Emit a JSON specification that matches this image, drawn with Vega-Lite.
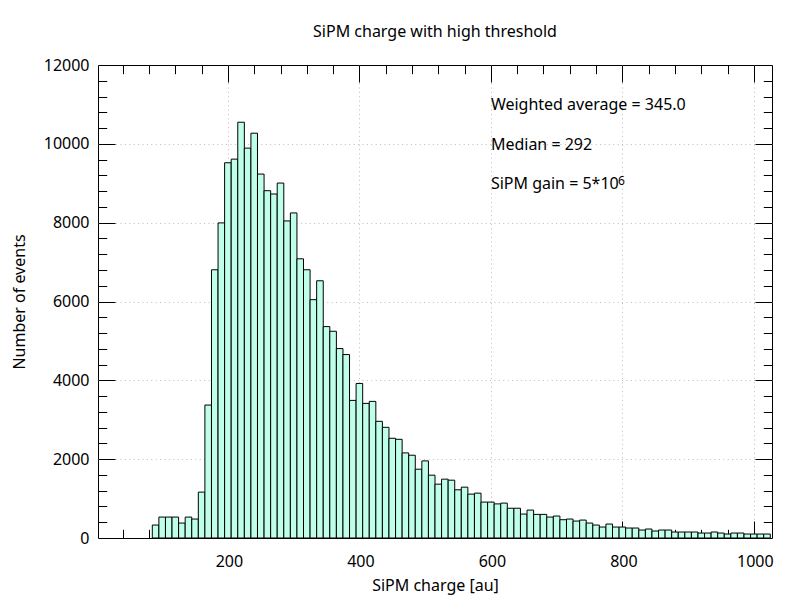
{
  "$schema": "https://vega.github.io/schema/vega-lite/v6.json",
  "description": "SiPM charge histogram with high threshold",
  "autosize": {"type": "none"},
  "padding": {"left": 98, "top": 65, "right": 28, "bottom": 62},
  "width": 674,
  "height": 473,
  "background": "white",
  "title": {
    "text": "SiPM charge with high threshold",
    "font": "Noto Sans",
    "fontSize": 16,
    "fontWeight": "normal",
    "color": "black",
    "anchor": "middle",
    "frame": "group",
    "offset": 17
  },
  "config": {
    "font": "Noto Sans",
    "view": {"stroke": "black", "strokeWidth": 1},
    "axis": {
      "labelFont": "Noto Sans",
      "labelFontSize": 16,
      "labelColor": "black",
      "titleFont": "Noto Sans",
      "titleFontSize": 16,
      "titleFontWeight": "normal",
      "titleColor": "black",
      "domain": false,
      "gridColor": "#bdbdbd",
      "gridDash": [1, 3.4],
      "gridWidth": 1,
      "tickColor": "black",
      "tickWidth": 1
    }
  },
  "datasets": {
    "hist": [
      {"charge": 80, "events": 126}, {"charge": 90, "events": 329}, {"charge": 100, "events": 531},
      {"charge": 110, "events": 531}, {"charge": 120, "events": 531}, {"charge": 130, "events": 379},
      {"charge": 140, "events": 531}, {"charge": 150, "events": 481}, {"charge": 160, "events": 1164},
      {"charge": 170, "events": 3373}, {"charge": 180, "events": 6805}, {"charge": 190, "events": 7994},
      {"charge": 200, "events": 9520}, {"charge": 210, "events": 9612}, {"charge": 220, "events": 10548},
      {"charge": 230, "events": 9891}, {"charge": 240, "events": 10270}, {"charge": 250, "events": 9233},
      {"charge": 260, "events": 8811}, {"charge": 270, "events": 8727}, {"charge": 280, "events": 9005},
      {"charge": 290, "events": 8044}, {"charge": 300, "events": 8247}, {"charge": 310, "events": 7083},
      {"charge": 320, "events": 6805}, {"charge": 330, "events": 6046}, {"charge": 340, "events": 6526},
      {"charge": 350, "events": 5363}, {"charge": 360, "events": 5245}, {"charge": 370, "events": 4806},
      {"charge": 380, "events": 4654}, {"charge": 390, "events": 3491}, {"charge": 400, "events": 3921},
      {"charge": 410, "events": 3415}, {"charge": 420, "events": 3466}, {"charge": 430, "events": 2960},
      {"charge": 440, "events": 2808}, {"charge": 450, "events": 2530}, {"charge": 460, "events": 2504},
      {"charge": 470, "events": 2159}, {"charge": 480, "events": 2100}, {"charge": 490, "events": 1745},
      {"charge": 500, "events": 1956}, {"charge": 510, "events": 1594}, {"charge": 520, "events": 1366},
      {"charge": 530, "events": 1493}, {"charge": 540, "events": 1467}, {"charge": 550, "events": 1223},
      {"charge": 560, "events": 1290}, {"charge": 570, "events": 1113}, {"charge": 580, "events": 1138},
      {"charge": 590, "events": 911}, {"charge": 600, "events": 911}, {"charge": 610, "events": 865},
      {"charge": 620, "events": 885}, {"charge": 630, "events": 755}, {"charge": 640, "events": 755},
      {"charge": 650, "events": 607}, {"charge": 660, "events": 708}, {"charge": 670, "events": 599},
      {"charge": 680, "events": 599}, {"charge": 690, "events": 531}, {"charge": 700, "events": 557},
      {"charge": 710, "events": 464}, {"charge": 720, "events": 481}, {"charge": 730, "events": 430},
      {"charge": 740, "events": 455}, {"charge": 750, "events": 379}, {"charge": 760, "events": 329},
      {"charge": 770, "events": 278}, {"charge": 780, "events": 354}, {"charge": 790, "events": 278},
      {"charge": 800, "events": 278}, {"charge": 810, "events": 253}, {"charge": 820, "events": 253},
      {"charge": 830, "events": 202}, {"charge": 840, "events": 228}, {"charge": 850, "events": 177},
      {"charge": 860, "events": 202}, {"charge": 870, "events": 202}, {"charge": 880, "events": 152},
      {"charge": 890, "events": 152}, {"charge": 900, "events": 152}, {"charge": 910, "events": 152},
      {"charge": 920, "events": 126}, {"charge": 930, "events": 126}, {"charge": 940, "events": 152},
      {"charge": 950, "events": 126}, {"charge": 960, "events": 101}, {"charge": 970, "events": 126},
      {"charge": 980, "events": 126}, {"charge": 990, "events": 101}, {"charge": 1000, "events": 101},
      {"charge": 1010, "events": 101}, {"charge": 1020, "events": 101}
    ],
    "notes": [
      {"charge": 600, "events": 11000, "label": "Weighted average = 345.0"},
      {"charge": 600, "events": 10000, "label": "Median = 292"},
      {"charge": 600, "events": 9000, "label": "SiPM gain = 5*10"}
    ],
    "sup": [
      {"charge": 600, "events": 9000, "label": "6"}
    ]
  },
  "resolve": {"axis": {"x": "independent", "y": "independent"}},
  "layer": [
    {
      "data": {"name": "hist"},
      "transform": [
        {"bin": {"step": 10, "anchor": 5}, "field": "charge", "as": ["lo", "hi"]}
      ],
      "mark": {"type": "bar", "fill": "#bfffe9", "stroke": "black", "strokeWidth": 1, "clip": true, "orient": "vertical"},
      "encoding": {
        "x": {
          "field": "lo",
          "type": "quantitative",
          "scale": {"domain": [10, 1020], "nice": false, "zero": false},
          "axis": {
            "orient": "bottom",
            "values": [200, 400, 600, 800, 1000],
            "format": "d",
            "ticks": false,
            "grid": false,
            "labelPadding": 15,
            "labelOffset": 1,
            "title": "SiPM charge [au]",
            "titlePadding": 8
          }
        },
        "x2": {"field": "hi"},
        "y": {
          "field": "events",
          "type": "quantitative",
          "scale": {"domain": [0, 12000], "nice": false, "padding": 0},
          "axis": {
            "orient": "left",
            "values": [0, 2000, 4000, 6000, 8000, 10000, 12000],
            "format": "d",
            "ticks": false,
            "grid": false,
            "labelPadding": 9,
            "title": "Number of events",
            "titlePadding": 16
          }
        },
        "y2": {"datum": 0}
      }
    },
    {
      "data": {"name": "hist"},
      "mark": {"type": "point", "opacity": 0},
      "encoding": {
        "x": {
          "field": "charge",
          "type": "quantitative",
          "axis": {"orient": "bottom", "values": [200, 400, 600, 800, 1000], "labels": false, "tickSize": -17, "grid": true, "title": null}
        },
        "y": {
          "field": "events",
          "type": "quantitative",
          "axis": {"orient": "left", "values": [2000, 4000, 6000, 8000, 10000], "labels": false, "tickSize": -17, "grid": true, "title": null}
        }
      }
    },
    {
      "data": {"name": "hist"},
      "mark": {"type": "point", "opacity": 0},
      "encoding": {
        "x": {
          "field": "charge",
          "type": "quantitative",
          "axis": {"orient": "bottom", "values": [40, 80, 120, 160, 240, 280, 320, 360, 440, 480, 520, 560, 640, 680, 720, 760, 840, 880, 920, 960], "labels": false, "tickSize": -8.7, "grid": false, "title": null}
        },
        "y": {
          "field": "events",
          "type": "quantitative",
          "axis": {"orient": "left", "values": [400, 800, 1200, 1600, 2400, 2800, 3200, 3600, 4400, 4800, 5200, 5600, 6400, 6800, 7200, 7600, 8400, 8800, 9200, 9600, 10400, 10800, 11200, 11600], "labels": false, "tickSize": -8.7, "grid": false, "title": null}
        }
      }
    },
    {
      "data": {"name": "hist"},
      "mark": {"type": "point", "opacity": 0},
      "encoding": {
        "x": {
          "field": "charge",
          "type": "quantitative",
          "axis": {"orient": "top", "values": [200, 400, 600, 800, 1000], "labels": false, "tickSize": -17, "grid": false, "title": null}
        },
        "y": {
          "field": "events",
          "type": "quantitative",
          "axis": {"orient": "right", "values": [2000, 4000, 6000, 8000, 10000], "labels": false, "tickSize": -17, "grid": false, "title": null}
        }
      }
    },
    {
      "data": {"name": "hist"},
      "mark": {"type": "point", "opacity": 0},
      "encoding": {
        "x": {
          "field": "charge",
          "type": "quantitative",
          "axis": {"orient": "top", "values": [40, 80, 120, 160, 240, 280, 320, 360, 440, 480, 520, 560, 640, 680, 720, 760, 840, 880, 920, 960], "labels": false, "tickSize": -8.7, "grid": false, "title": null}
        },
        "y": {
          "field": "events",
          "type": "quantitative",
          "axis": {"orient": "right", "values": [400, 800, 1200, 1600, 2400, 2800, 3200, 3600, 4400, 4800, 5200, 5600, 6400, 6800, 7200, 7600, 8400, 8800, 9200, 9600, 10400, 10800, 11200, 11600], "labels": false, "tickSize": -8.7, "grid": false, "title": null}
        }
      }
    },
    {
      "data": {"name": "notes"},
      "mark": {"type": "text", "align": "left", "baseline": "middle", "font": "Noto Sans", "fontSize": 16, "color": "black", "dy": 1},
      "encoding": {
        "x": {"field": "charge", "type": "quantitative", "axis": null},
        "y": {"field": "events", "type": "quantitative", "axis": null},
        "text": {"field": "label"}
      }
    },
    {
      "data": {"name": "sup"},
      "mark": {"type": "text", "align": "left", "baseline": "alphabetic", "font": "Noto Sans", "fontSize": 12, "color": "black", "dx": 127, "dy": 1.5},
      "encoding": {
        "x": {"field": "charge", "type": "quantitative", "axis": null},
        "y": {"field": "events", "type": "quantitative", "axis": null},
        "text": {"field": "label"}
      }
    }
  ]
}
